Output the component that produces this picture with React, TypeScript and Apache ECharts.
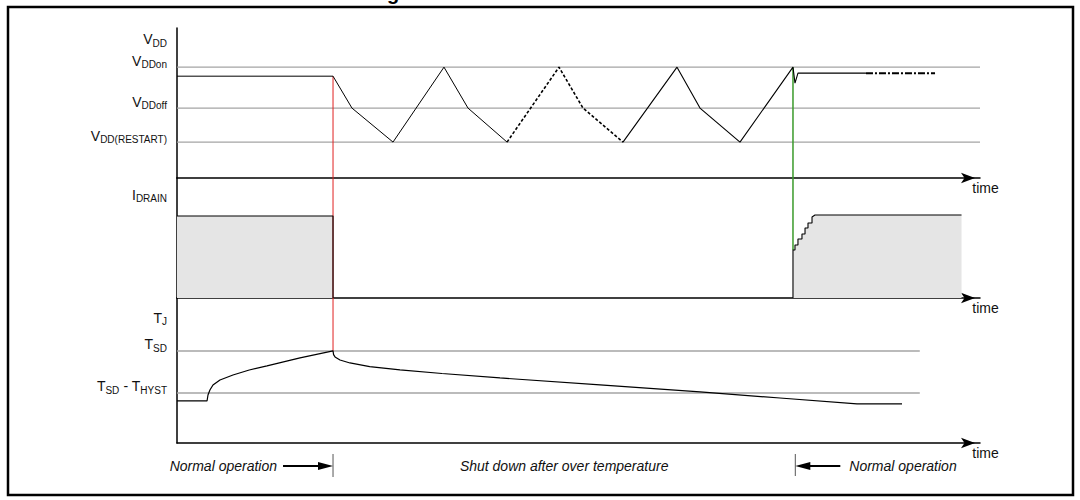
import React, { useEffect, useRef } from "react";
import * as echarts from "echarts";

const FONT = '"Liberation Sans", Arial, Helvetica, sans-serif';
const INK = "#111111";

// ---- time axis (arbitrary units) ----
const TIME_MAX = 100;
const phaseBounds = [19.43, 77.0]; // end of normal operation / restart
const phaseTexts = ["Normal operation", "Shut down after over temperature", "Normal operation"];

// ---- VDD panel ----
const vddMax = 20.3;
const vddLevels = [15.0, 9.46, 4.86]; // VDDon, VDDoff, VDD(RESTART)
const vddLabelValues = [17.9, 15.0, 9.46, 4.86];
const vddLabels = ["{m|V}{s|DD}", "{m|V}{s|DDon}", "{m|V}{s|DDoff}", "{m|V}{s|DD(RESTART)}"];
const vddSolidA = [[0, 13.78], [19.43, 13.78], [21.79, 9.46], [26.9, 4.86], [33.25, 15.0], [36.24, 9.46], [41.1, 4.86]];
const vddDashed = [[41.1, 4.86], [47.57, 15.0], [50.56, 9.46], [55.54, 4.86]];
const vddSolidB = [[55.54, 4.86], [62.27, 15.0], [65.13, 9.46], [70.11, 4.86], [76.71, 15.0], [76.96, 12.84], [77.33, 14.19], [85.8, 14.19]];
const vddDashDot = [[85.8, 14.19], [94.4, 14.19]];

// ---- IDRAIN panel ----
const idMax = 14.6;
const idLabelValues = [11.8];
const idLabels = ["{m|I}{s|DRAIN}"];
const idrainOn = [[0, 9.98], [19.43, 9.98], [19.43, 0]];
const idrainRestart = [[76.71, 0], [76.71, 5.84], [76.96, 5.84], [76.96, 6.45], [77.33, 6.45], [77.33, 7.18], [77.83, 7.18], [77.83, 7.79], [78.21, 7.79], [78.21, 8.52], [78.58, 8.52], [78.58, 9.13], [79.08, 9.13], [79.08, 9.86], [79.45, 10.1], [97.7, 10.1]];

// ---- TJ panel ----
const tjMax = 31.5;
const tjLevels = [20.0, 10.87]; // TSD, TSD - THYST
const tjLevelEnd = 92.5;
const tjLabelValues = [25.8, 20.0, 10.87];
const tjLabels = ["{m|T}{s|J}", "{m|T}{s|SD}", "{m|T}{s|SD}{m| - T}{s|HYST}"];
const tjCurve = [[0, 9.13], [3.74, 9.13], [3.86, 10.43], [4.1, 11.5], [4.48, 12.61], [5.35, 13.7], [6.97, 14.78], [9.0, 15.85], [11.21, 16.74], [15.32, 18.48], [19.43, 20.0], [19.5, 19.2], [19.68, 18.7], [20.3, 18.04], [21.54, 17.39], [24.0, 16.6], [27.77, 15.87], [33.0, 15.1], [40.22, 14.13], [52.68, 12.61], [65.13, 11.09], [75.09, 9.78], [84.68, 8.48], [90.29, 8.48]];

const GRID_LEFT = 177;
const GRID_RIGHT = 100;

function nearestLabel(values: number[], labels: string[]) {
  return (v: number) => {
    let best = 0;
    for (let i = 1; i < values.length; i++) {
      if (Math.abs(values[i] - v) < Math.abs(values[best] - v)) best = i;
    }
    return labels[best];
  };
}

const rich = {
  m: { fontSize: 14, lineHeight: 14, verticalAlign: "top", fontFamily: FONT, color: INK },
  s: { fontSize: 10, lineHeight: 16, verticalAlign: "bottom", fontFamily: FONT, color: INK },
};

function yAxis(gridIndex: number, max: number, values: number[], labels: string[]) {
  return {
    type: "value",
    gridIndex,
    min: 0,
    max,
    axisLine: { show: true, onZero: false, lineStyle: { color: "#000", width: 1.5 } },
    axisTick: { show: false },
    splitLine: { show: false },
    axisLabel: {
      show: true,
      customValues: values,
      formatter: nearestLabel(values, labels),
      rich,
      margin: 10,
      padding: [0, 0, 11, 0],
    },
  };
}

function xAxis(gridIndex: number) {
  return {
    type: "value",
    gridIndex,
    min: 0,
    max: TIME_MAX,
    axisLine: {
      show: true,
      onZero: false,
      symbol: ["none", "arrow"],
      symbolSize: [8, 14],
      symbolOffset: [0, -5],
      lineStyle: { color: "#000", width: 1.5 },
    },
    axisTick: { show: false },
    axisLabel: { show: false },
    splitLine: { show: false },
    name: "time",
    nameLocation: "end",
    nameGap: 5.5,
    nameTextStyle: {
      fontFamily: FONT,
      fontSize: 14,
      color: INK,
      align: "center",
      verticalAlign: "top",
      padding: [3, 0, 0, 0],
    },
  };
}

function line(grid: number, data: number[][], color: string, width: number, type: any = "solid", extra: any = {}) {
  return {
    type: "line",
    xAxisIndex: grid,
    yAxisIndex: grid,
    data,
    symbol: "none",
    showSymbol: false,
    clip: false,
    silent: true,
    lineStyle: { color, width, type },
    ...extra,
  };
}

const GRAY = "#a4a4a4";

export default function App() {
  const ref = useRef<HTMLDivElement>(null);

  useEffect(() => {
    if (!ref.current) return;
    const chart = echarts.init(ref.current, undefined, { renderer: "svg" });

    const series: any[] = [];
    vddLevels.forEach((v) => series.push(line(0, [[0, v], [TIME_MAX, v]], GRAY, 1.4)));
    tjLevels.forEach((v) => series.push(line(2, [[0, v], [tjLevelEnd, v]], GRAY, 1.4)));

    // red boundary (thermal shutdown)
    const tA = phaseBounds[0];
    series.push(line(0, [[tA, vddSolidA[1][1]], [tA, 0]], "#e02020", 1));
    series.push(line(1, [[tA, 0], [tA, idMax]], "#e02020", 1));
    series.push(line(2, [[tA, tjMax], [tA, tjLevels[0]]], "#e02020", 1));
    // green boundary (restart)
    const tB = idrainRestart[0][0];
    series.push(line(0, [[tB, vddLevels[0]], [tB, 0]], "#3a9a2a", 1.5));
    series.push(line(1, [[tB, idMax], [tB, idrainRestart[1][1]]], "#3a9a2a", 1.5));

    // VDD waveform
    series.push(line(0, vddSolidA, "#000", 1));
    series.push(line(0, vddDashed, "#000", 1.6, [3, 2]));
    series.push(line(0, vddSolidB, "#000", 1.1));
    series.push(line(0, vddDashDot, "#000", 2, [7, 2, 2, 2]));

    // IDRAIN
    series.push(line(1, idrainOn, "#000", 1.1, "solid", { areaStyle: { color: "#e5e5e5", opacity: 1 } }));
    series.push(line(1, idrainRestart, "#000", 1.1, "solid", { areaStyle: { color: "#e5e5e5", opacity: 1 } }));

    // TJ
    series.push(line(2, tjCurve, "#000", 1.2));

    chart.setOption({
      animation: false,
      backgroundColor: "#ffffff",
      grid: [
        { left: GRID_LEFT, right: GRID_RIGHT, top: 28, height: 150 },
        { left: GRID_LEFT, right: GRID_RIGHT, top: 178, height: 120 },
        { left: GRID_LEFT, right: GRID_RIGHT, top: 298, height: 145 },
      ],
      xAxis: [xAxis(0), xAxis(1), xAxis(2)],
      yAxis: [
        yAxis(0, vddMax, vddLabelValues, vddLabels),
        yAxis(1, idMax, idLabelValues, idLabels),
        yAxis(2, tjMax, tjLabelValues, tjLabels),
      ],
      series,
    });

    // annotations below the time axis, positioned via the axis scale
    const xa = chart.convertToPixel({ xAxisIndex: 2 }, phaseBounds[0]) as number;
    const xb = chart.convertToPixel({ xAxisIndex: 2 }, phaseBounds[1]) as number;
    const ay = 466;
    const textStyle = { font: `italic 14px ${FONT}`, fill: INK, verticalAlign: "middle" };

    chart.setOption({
      graphic: [
        { type: "rect", shape: { x: 8, y: 7, width: 1065, height: 488 }, style: { fill: "none", stroke: "#000", lineWidth: 2.5 } },
        { type: "text", x: 387, y: 3, style: { text: "g", font: `bold 20px ${FONT}`, fill: "#000", verticalAlign: "bottom" } },
        { type: "line", shape: { x1: xa, y1: 454, x2: xa, y2: 477 }, style: { stroke: "#555", lineWidth: 1 } },
        { type: "line", shape: { x1: xa - 50, y1: ay, x2: xa - 12, y2: ay }, style: { stroke: "#000", lineWidth: 2 } },
        { type: "polygon", shape: { points: [[xa, ay], [xa - 15, ay - 4], [xa - 15, ay + 4]] }, style: { fill: "#000" } },
        { type: "text", x: xa - 56, y: ay, style: { ...textStyle, text: phaseTexts[0], align: "right" } },
        { type: "text", x: (xa + xb) / 2, y: ay, style: { ...textStyle, text: phaseTexts[1], align: "center" } },
        { type: "line", shape: { x1: xb, y1: 454, x2: xb, y2: 476 }, style: { stroke: "#555", lineWidth: 1 } },
        { type: "polygon", shape: { points: [[xb, ay], [xb + 15, ay - 4], [xb + 15, ay + 4]] }, style: { fill: "#000" } },
        { type: "line", shape: { x1: xb + 12, y1: ay, x2: xb + 45, y2: ay }, style: { stroke: "#000", lineWidth: 2 } },
        { type: "text", x: xb + 54, y: ay, style: { ...textStyle, text: phaseTexts[2], align: "left" } },
      ],
    });

    return () => chart.dispose();
  }, []);

  return (
    <div
      ref={ref}
      style={{ position: "fixed", left: 0, top: 0, width: 1080, height: 500, background: "#fff" }}
    />
  );
}
